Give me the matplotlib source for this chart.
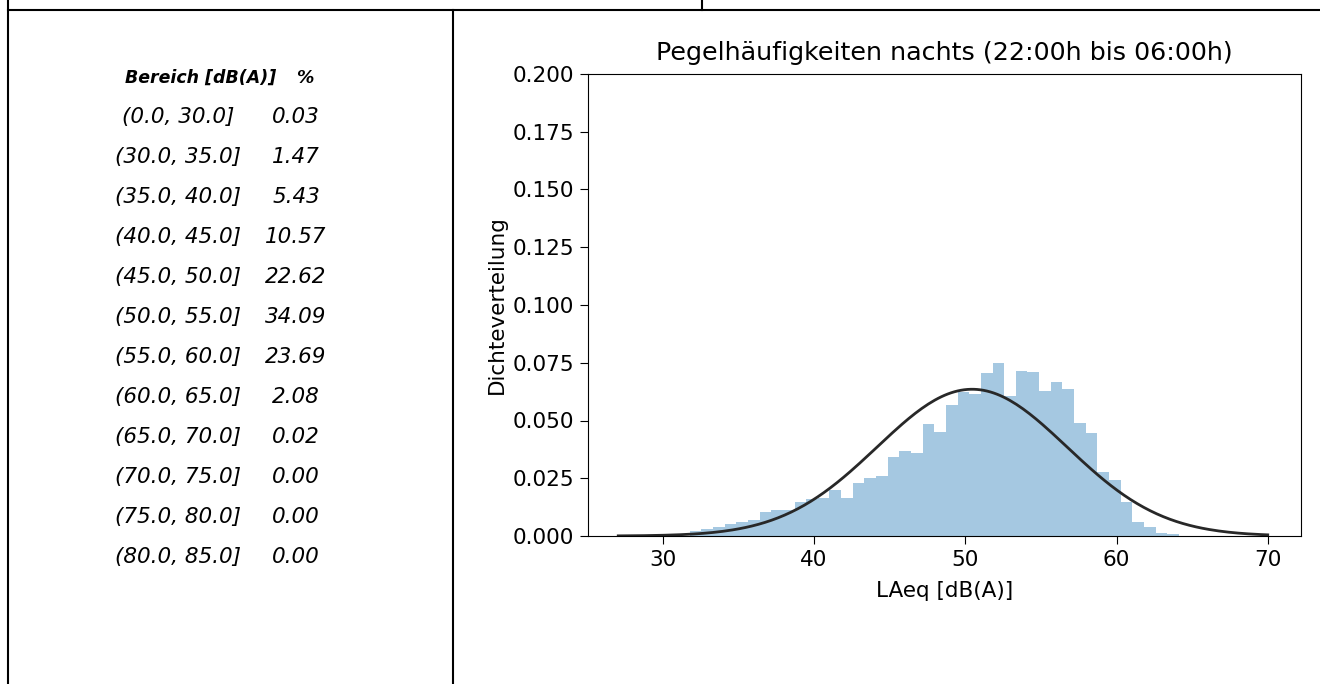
## night-time level histogram with range table
import numpy as np
import matplotlib.pyplot as plt
from matplotlib.lines import Line2D

# table on the left
ranges = ['(0.0, 30.0]', '(30.0, 35.0]', '(35.0, 40.0]', '(40.0, 45.0]',
          '(45.0, 50.0]', '(50.0, 55.0]', '(55.0, 60.0]', '(60.0, 65.0]',
          '(65.0, 70.0]', '(70.0, 75.0]', '(75.0, 80.0]', '(80.0, 85.0]']
percent = ['0.03', '1.47', '5.43', '10.57', '22.62', '34.09', '23.69',
           '2.08', '0.02', '0.00', '0.00', '0.00']

# histogram (density per bin), bins
bin_start = 31.78
bin_width = 0.77
density = [0.0022, 0.0032, 0.0040, 0.0050, 0.0060, 0.0069, 0.0105, 0.0111,
           0.0111, 0.0146, 0.0160, 0.0163, 0.0199, 0.0163, 0.0228, 0.0253,
           0.0260, 0.0341, 0.0368, 0.0361, 0.0483, 0.0450, 0.0567, 0.0622,
           0.0613, 0.0707, 0.0747, 0.0607, 0.0716, 0.0709, 0.0629, 0.0667,
           0.0635, 0.0491, 0.0444, 0.0278, 0.0242, 0.0146, 0.0062, 0.0040,
           0.0014, 0.0010]

# fitted normal
mu, sigma = 50.45, 6.28
curve_lo, curve_hi = 27.05, 70.0

W, H = 1320, 684
fig = plt.figure(figsize=(W/100, H/100), dpi=100, facecolor='w')

# document table borders
lw = 1.5
fig.add_artist(Line2D([8/W, 8/W], [0, 1], color='k', lw=lw))
fig.add_artist(Line2D([8/W, 1], [1-10/H, 1-10/H], color='k', lw=lw))
fig.add_artist(Line2D([702/W, 702/W], [1-10/H, 1], color='k', lw=lw))
fig.add_artist(Line2D([453/W, 453/W], [0, 1-10/H], color='k', lw=lw))

tfont = 'DejaVu Sans'
fig.text(201/W, 1-78/H, 'Bereich [dB(A)]', ha='center', va='center',
         fontsize=12.5, style='italic', weight='bold', family=tfont)
fig.text(305/W, 1-78/H, '%', ha='center', va='center',
         fontsize=12.5, style='italic', weight='bold', family=tfont)
for i in range(len(ranges)):
    y = 1 - (117 + 40*i)/H
    fig.text(178/W, y, ranges[i], ha='center', va='center',
             fontsize=15.5, style='italic', family=tfont)
    fig.text(296/W, y, percent[i], ha='center', va='center',
             fontsize=15.5, style='italic', family=tfont)

# histogram
ax = fig.add_axes([588/W, 1-536/H, (1301-588)/W, (536-74)/H])
edges = bin_start + bin_width*np.arange(len(density)+1)
ax.hist(edges[:-1], bins=edges, weights=density, color='#1f77b4', alpha=0.4)
x = np.linspace(curve_lo, curve_hi, 200)
ax.plot(x, np.exp(-0.5*((x-mu)/sigma)**2)/(sigma*np.sqrt(2*np.pi)),
        color='#282828', lw=2)
ax.set_xlim(25.05, 72.2)
ax.set_ylim(0, 0.2)
ax.set_xticks([30, 40, 50, 60, 70])
ax.set_yticks(np.arange(0, 0.201, 0.025))
ax.tick_params(labelsize=15.5, length=6, pad=4)
ax.set_title('Pegelhäufigkeiten nachts (22:00h bis 06:00h)', fontsize=18.3, pad=10)
ax.set_xlabel('LAeq [dB(A)]', fontsize=15.5, labelpad=8)
ax.set_ylabel('Dichteverteilung', fontsize=15.5, labelpad=4)

fig.savefig('out.png', dpi=100)
